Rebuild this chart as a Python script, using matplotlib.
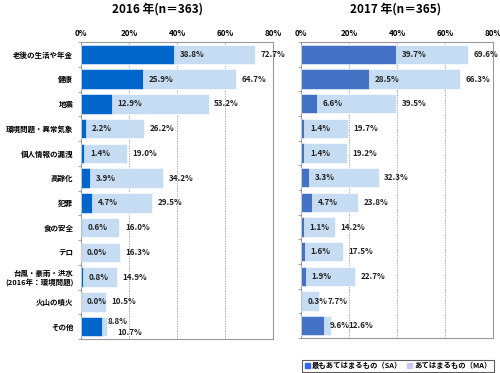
import numpy as np
import matplotlib
matplotlib.use("Agg")
import matplotlib.pyplot as plt
from matplotlib.patches import Patch

plt.rcParams['font.family'] = ['Noto Sans CJK JP', 'DejaVu Sans']

categories = ['老後の生活や年金', '健康', '地震', '環境問題・異常気象', '個人情報の漏洩',
              '高齢化', '犯罪', '食の安全', 'テロ', '台風・豪雨・洪水\n(2016年：環境問題)',
              '火山の噴火', 'その他']
sa_2016 = [38.8, 25.9, 12.9, 2.2, 1.4, 3.9, 4.7, 0.6, 0.0, 0.8, 0.0, 8.8]
ma_2016 = [72.7, 64.7, 53.2, 26.2, 19.0, 34.2, 29.5, 16.0, 16.3, 14.9, 10.5, 10.7]
sa_2017 = [39.7, 28.5, 6.6, 1.4, 1.4, 3.3, 4.7, 1.1, 1.6, 1.9, 0.3, 9.6]
ma_2017 = [69.6, 66.3, 39.5, 19.7, 19.2, 32.3, 23.8, 14.2, 17.5, 22.7, 7.7, 12.6]
titles = ['2016 年(n＝363)', '2017 年(n＝365)']
xticks = [0, 20, 40, 60, 80]

light = '#c5dcf3'
dark_2016 = '#0066cc'
dark_2017 = '#4472c4'
fs = 5.8


def draw_panel(ax, sa, ma, dark, title, title_x, show_labels, special=None):
    y = np.arange(len(categories))
    ax.barh(y, ma, height=0.78, color=light, edgecolor='white', linewidth=0.4, zorder=2)
    ax.barh(y, sa, height=0.78, color=dark, edgecolor='white', linewidth=0.4, zorder=3)
    special = special or {}
    for i in range(len(categories)):
        sa_dx, sa_dy, ma_dx, ma_dy = special.get(i, (0, 0, 0, 0))
        ax.annotate(f'{sa[i]:.1f}%', (sa[i], i), xytext=(4 + sa_dx, sa_dy),
                    textcoords='offset points', va='center', ha='left',
                    fontsize=fs, fontweight='bold', color='#222222', zorder=4)
        ax.annotate(f'{ma[i]:.1f}%', (ma[i], i), xytext=(4 + ma_dx, ma_dy),
                    textcoords='offset points', va='center', ha='left',
                    fontsize=fs, fontweight='bold', color='#222222', zorder=4)
    ax.set_xlim(0, 80)
    ax.set_ylim(len(categories) - 0.5, -0.5)
    ax.set_xticks(xticks)
    ax.set_xticklabels([f'{t}%' for t in xticks], fontsize=fs, fontweight='bold')
    ax.xaxis.tick_top()
    ax.tick_params(axis='x', length=0, pad=3)
    ax.set_yticks(y)
    if show_labels:
        ax.set_yticklabels(categories, fontsize=5.4, fontweight='bold', linespacing=1.1)
    else:
        ax.set_yticklabels([])
    ax.tick_params(axis='y', length=0, pad=5.5)
    ax.set_yticks(np.arange(-0.5, len(categories), 1), minor=True)
    ax.tick_params(axis='y', which='minor', length=2, color='#999999')
    for g in xticks[1:-1]:
        ax.axvline(g, color='#999999', linestyle=(0, (1.5, 1.5)), linewidth=0.6, zorder=1)
    for s in ax.spines.values():
        s.set_color('#999999')
        s.set_linewidth(0.8)
    ax.set_title(title, fontsize=8.5, fontweight='bold', pad=21, x=title_x)


fig = plt.figure(figsize=(5, 3.73), dpi=100)
ax1 = fig.add_axes([81 / 500, 34 / 373, 192 / 500, 297 / 373])
ax2 = fig.add_axes([301 / 500, 35 / 373, 192 / 500, 296 / 373])

draw_panel(ax1, sa_2016, ma_2016, dark_2016, titles[0], 0.40, True,
           special={11: (0, 4, 4, -4.5)})
draw_panel(ax2, sa_2017, ma_2017, dark_2017, titles[1], 0.49, False,
           special={10: (0, 0, 2, 0), 11: (0, 0, 8, 0)})

handles = [Patch(color='#3366ee', label='最もあてはまるもの（SA）'),
           Patch(color='#c8c8f2', label='あてはまるもの（MA）')]
leg = fig.legend(handles=handles, loc='lower right', bbox_to_anchor=(494 / 500, 1 / 373),
                 ncol=2, fontsize=5.3, frameon=True, fancybox=False, handlelength=0.7,
                 handleheight=0.7, handletextpad=0.3, columnspacing=0.6,
                 borderpad=0.35, borderaxespad=0)
leg.get_frame().set_edgecolor('#333333')
leg.get_frame().set_linewidth(0.8)
for t in leg.get_texts():
    t.set_fontweight('bold')

fig.savefig('out.png', dpi=100)
